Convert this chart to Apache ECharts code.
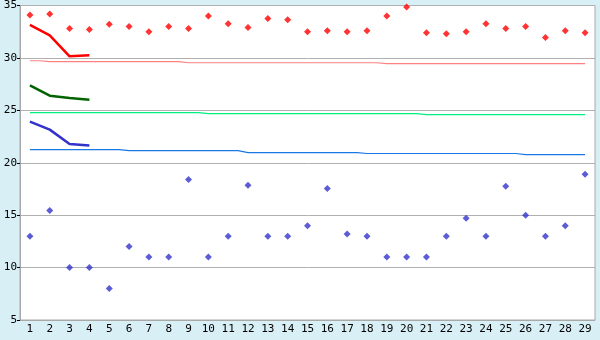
<!DOCTYPE html>
<html>
<head>
<meta charset="utf-8">
<script src="https://cdn.jsdelivr.net/npm/echarts@6/dist/echarts.min.js"></script>
<style>html,body{margin:0;padding:0;background:#d9eff6;}#c{width:600px;height:340px;}</style>
</head>
<body>
<div id="c"></div>
<script>
const categories = ['1','2','3','4','5','6','7','8','9','10','11','12','13','14','15','16','17','18','19','20','21','22','23','24','25','26','27','28','29'];
const redPoints = [34.1,34.2,32.8,32.7,33.2,33.0,32.5,33.0,32.8,34.0,33.25,32.9,33.75,33.65,32.5,32.6,32.5,32.6,34.0,34.85,32.4,32.3,32.5,33.25,32.8,33.0,31.95,32.6,32.4];
const bluePoints = [13,15.45,10,10,8,12,11,11,18.4,11,13,17.85,13,13,14,17.55,13.2,13,11,11,11,13,14.7,13,17.75,15,13,14,18.9];
const redThin = [29.73,29.64,29.64,29.64,29.64,29.64,29.64,29.64,29.54,29.54,29.54,29.54,29.54,29.54,29.54,29.54,29.54,29.54,29.45,29.45,29.45,29.45,29.45,29.45,29.45,29.45,29.45,29.45,29.45];
const greenThin = [24.78,24.78,24.78,24.78,24.78,24.78,24.78,24.78,24.78,24.69,24.69,24.69,24.69,24.69,24.69,24.69,24.69,24.69,24.69,24.69,24.59,24.59,24.59,24.59,24.59,24.59,24.59,24.59,24.59];
const blueThin = [21.26,21.26,21.26,21.26,21.26,21.16,21.16,21.16,21.16,21.16,21.16,20.97,20.97,20.97,20.97,20.97,20.97,20.88,20.88,20.88,20.88,20.88,20.88,20.88,20.88,20.78,20.78,20.78,20.78];
const redThick = [33.15,32.15,30.15,30.25];
const greenThick = [27.38,26.4,26.17,26.02];
const blueThick = [23.92,23.16,21.79,21.64];
const yTicks = [5,10,15,20,25,30,35];

const chart = echarts.init(document.getElementById('c'));
const font = 'DejaVu Sans Mono';
function thin(data, color){
  return {type:'line', data:data, step:'middle', symbol:'none', lineStyle:{color:color,width:1.2}, z:2, silent:true, animation:false};
}
function thick(data, color){
  return {type:'line', data:data, symbol:'none', lineStyle:{color:color,width:2.5}, z:3, silent:true, animation:false};
}
function pts(data, color){
  return {type:'scatter', data:data, symbol:'diamond', symbolSize:7, itemStyle:{color:color}, z:4, animation:false};
}
chart.setOption({
  backgroundColor:'#d9eff6',
  animation:false,
  grid:{left:20,right:5,top:5,bottom:20,show:true,backgroundColor:'#ffffff',borderColor:'#a8a8a8',borderWidth:1},
  xAxis:{type:'category',data:categories,boundaryGap:true,
    axisLine:{lineStyle:{color:'#a8a8a8'}},
    axisTick:{alignWithLabel:true,length:5,lineStyle:{color:'#000'}},
    axisLabel:{color:'#000',fontFamily:font,fontSize:11,margin:4,interval:0},
    splitLine:{show:false}},
  yAxis:{type:'value',min:yTicks[0],max:yTicks[yTicks.length-1],interval:5,
    axisLine:{show:true,lineStyle:{color:'#a8a8a8'}},
    axisTick:{show:true,length:3,lineStyle:{color:'#000'}},
    axisLabel:{color:'#000',fontFamily:font,fontSize:11,margin:3},
    splitLine:{lineStyle:{color:'#b0b0b0',width:1}}},
  series:[
    thin(redThin,'#ff8080'),
    thin(greenThin,'#00f080'),
    thin(blueThin,'#1a78e6'),
    thick(redThick,'#ff0000'),
    thick(greenThick,'#006400'),
    thick(blueThick,'#3333cc'),
    pts(redPoints,'#ff0000'),
    pts(bluePoints,'#3333cc')
  ]
});
</script>
</body>
</html>
